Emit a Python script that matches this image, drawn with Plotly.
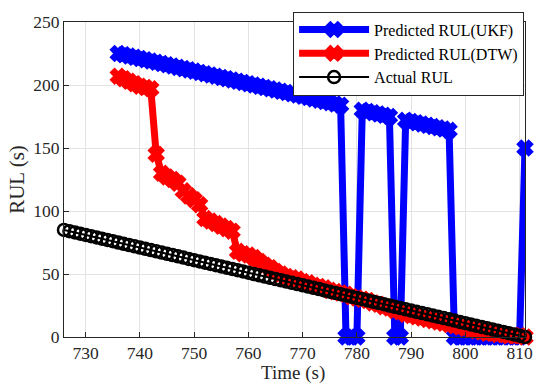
import plotly.graph_objects as go

# ---- data ----
time_actual = [726, 727, 728, 729, 730, 731, 732, 733, 734, 735, 736, 737, 738, 739, 740,
               741, 742, 743, 744, 745, 746, 747, 748, 749, 750, 751, 752, 753, 754, 755,
               756, 757, 758, 759, 760, 761, 762, 763, 764, 765, 766, 767, 768, 769, 770,
               771, 772, 773, 774, 775, 776, 777, 778, 779, 780, 781, 782, 783, 784, 785,
               786, 787, 788, 789, 790, 791, 792, 793, 794, 795, 796, 797, 798, 799, 800,
               801, 802, 803, 804, 805, 806, 807, 808, 809, 810, 811]
rul_actual = [85, 84, 83, 82, 81, 80, 79, 78, 77, 76, 75, 74, 73, 72, 71,
              70, 69, 68, 67, 66, 65, 64, 63, 62, 61, 60, 59, 58, 57, 56,
              55, 54, 53, 52, 51, 50, 49, 48, 47, 46, 45, 44, 43, 42, 41,
              40, 39, 38, 37, 36, 35, 34, 33, 32, 31, 30, 29, 28, 27, 26,
              25, 24, 23, 22, 21, 20, 19, 18, 17, 16, 15, 14, 13, 12, 11,
              10, 9, 8, 7, 6, 5, 4, 3, 2, 1, 0]

time_pred = [736, 737, 738, 739, 740, 741, 742, 743, 744, 745, 746, 747, 748, 749, 750,
             751, 752, 753, 754, 755, 756, 757, 758, 759, 760, 761, 762, 763, 764, 765,
             766, 767, 768, 769, 770, 771, 772, 773, 774, 775, 776, 777, 778, 779, 780,
             781, 782, 783, 784, 785, 786, 787, 788, 789, 790, 791, 792, 793, 794, 795,
             796, 797, 798, 799, 800, 801, 802, 803, 804, 805, 806, 807, 808, 809, 810,
             811]
rul_ukf = [225, 224, 223, 222, 221, 220, 219, 218, 217, 216, 215, 214, 213, 212, 211,
           210, 209, 208, 207, 206, 205, 204, 203, 202, 201, 200, 199, 198, 197, 196,
           195, 194, 193, 192, 191, 190, 189, 188, 187, 186, 185, 184, 0, 0, 0,
           180, 179, 178, 177, 176, 175, 0, 0, 172, 171, 170, 169, 168, 167, 166,
           165, 164, 0, 0, 0, 0, 0, 0, 0, 0, 0, 0, 0, 0, 0,
           150]
rul_dtw = [207, 205, 203, 201, 199, 198, 197, 145, 130, 127, 125, 122, 116, 112, 109,
           105, 94, 92, 90, 88, 86, 84, 68, 66, 65, 63, 60, 57, 55, 52,
           50, 48, 47, 46, 44, 43, 41, 40, 39, 37, 36, 35, 34, 32, 31,
           30, 29, 27, 26, 24, 23, 21, 20, 18, 17, 16, 15, 14, 13, 12,
           11, 10, 9, 8, 7, 6, 5, 4, 3, 3, 2, 2, 1, 1, 1,
           0]

x_ticks = [730, 740, 750, 760, 770, 780, 790, 800, 810]
y_ticks = [0, 50, 100, 150, 200, 250]
x_title = "Time (s)"
y_title = "RUL (s)"

FONT = "Liberation Serif"

fig = go.Figure()
fig.add_trace(go.Scatter(
    x=time_pred, y=rul_ukf, mode="lines+markers", name="Predicted RUL(UKF)",
    line=dict(color="#0000FF", width=7), cliponaxis=False,
    marker=dict(symbol="x", size=13, color="#0000FF", line=dict(color="#0000FF", width=2)),
))
fig.add_trace(go.Scatter(
    x=time_pred, y=rul_dtw, mode="lines+markers", name="Predicted RUL(DTW)",
    line=dict(color="#FF0000", width=7), cliponaxis=False,
    marker=dict(symbol="x", size=13, color="#FF0000", line=dict(color="#FF0000", width=2)),
))
fig.add_trace(go.Scatter(
    x=time_actual, y=rul_actual, mode="lines+markers", name="Actual RUL",
    line=dict(color="#000000", width=2), cliponaxis=False,
    marker=dict(symbol="circle-open", size=12, color="#000000", line=dict(color="#000000", width=2.5)),
))

axis_common = dict(
    showline=True, linecolor="#262626", linewidth=1, mirror=True,
    ticks="inside", ticklen=5, tickcolor="#262626", tickwidth=1,
    showgrid=True, gridcolor="#e3e3e3", gridwidth=1, zeroline=False,
    tickfont=dict(family=FONT, size=17.5, color="#262626"),
)

fig.update_layout(
    width=535, height=383,
    margin=dict(l=64, r=10, t=22, b=46),
    paper_bgcolor="white", plot_bgcolor="white",
    font=dict(family=FONT, color="#262626"),
    xaxis=dict(range=[726, 811], tickvals=x_ticks, automargin=False, **axis_common),
    yaxis=dict(range=[0, 250], tickvals=y_ticks, automargin=True,
               title=dict(text=y_title, font=dict(family=FONT, size=21, color="#262626"), standoff=2),
               **axis_common),
    legend=dict(x=0.998, y=1.033, xanchor="right", yanchor="top",
                bgcolor="white", bordercolor="#262626", borderwidth=1,
                font=dict(family=FONT, size=16, color="#000000"),
                itemwidth=70, tracegroupgap=0),
    showlegend=True,
    annotations=[dict(text=x_title, xref="paper", yref="paper", x=0.497, y=0,
                      xanchor="center", yanchor="top", yshift=-23, showarrow=False,
                      font=dict(family=FONT, size=19, color="#262626"))],
)

fig.write_html("out.html")
